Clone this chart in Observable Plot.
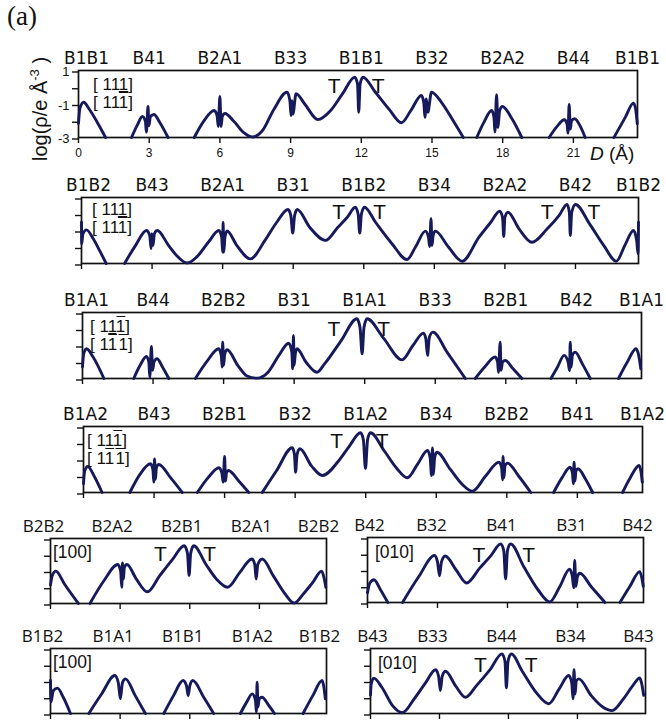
<!DOCTYPE html>
<html><head><meta charset="utf-8">
<script src="https://cdn.jsdelivr.net/npm/d3@7"></script>
<script src="https://cdn.jsdelivr.net/npm/@observablehq/plot@0.6"></script>
<style>
body{margin:0;background:#fff;}
#root{position:relative;width:666px;height:721px;overflow:hidden;background:#fff;font-family:"Liberation Sans",Arial,sans-serif;color:#111;}
.abs{position:absolute;white-space:nowrap;}
.ol{text-decoration:overline;}
.ul{text-decoration:underline;}
.mil{font-size:17px;line-height:18px;}
.dir{font-size:17.5px;line-height:20px;}
</style></head><body><div id="root"></div>
<script>
// ---------- data (D in Å, value = log10 density) ----------
const labels1 = ["B1B1","B41","B2A1","B33","B1B1","B32","B2A2","B44","B1B1"];
const labels2 = ["B1B2","B43","B2A1","B31","B1B2","B34","B2A2","B42","B1B2"];
const labels3 = ["B1A1","B44","B2B2","B31","B1A1","B33","B2B1","B42","B1A1"];
const labels4 = ["B1A2","B43","B2B1","B32","B1A2","B34","B2B2","B41","B1A2"];
const labels5 = ["B2B2","B2A2","B2B1","B2A1","B2B2"];
const labels6 = ["B42","B32","B41","B31","B42"];
const labels7 = ["B1B2","B1A1","B1B1","B1A2","B1B2"];
const labels8 = ["B43","B33","B44","B34","B43"];

const ticksLong = [0,3,6,9,12,15,18,21];
const ticksShort = [0,3,6,9];
const ticksY = [1,0,-1,-2,-3];
const ticksYLabeled = [1,-1,-3];

const curve1 = [[0.00,-2.16],[0.06,-1.25],[0.22,-0.9],[0.45,-1.3],[0.8,-2.1],[1.15,-3.0],null,
[2.25,-3.0],[2.5,-2.25],[2.71,-1.75],[2.84,-2.05],[2.88,-2.68],[2.95,-1.15],[2.99,-2.3],[3.05,-1.75],[3.2,-1.63],[3.45,-2.1],[3.8,-3.0],null,
[4.91,-3.0],[5.3,-2.05],[5.76,-1.39],[5.88,-1.7],[5.93,-2.34],[6.0,-0.55],[6.05,-2.34],[6.1,-1.75],[6.21,-1.57],[6.6,-2.05],[7.0,-2.7],[7.39,-2.97],[7.8,-2.6],[8.3,-1.3],[8.85,-0.29],[8.97,-0.8],[9.02,-1.69],[9.06,-0.8],[9.1,-1.6],[9.23,-0.39],[9.6,-1.0],[10.16,-1.93],[10.7,-1.39],[11.2,-0.4],[11.72,0.6],[11.84,0.2],[11.89,-1.49],[11.95,0.2],[12.07,0.6],[12.6,-0.3],[13.2,-1.35],[13.7,-2.12],[14.1,-1.4],[14.55,-0.49],[14.65,-0.9],[14.7,-1.79],[14.76,-0.7],[14.82,-1.5],[14.98,-0.29],[15.4,-0.9],[15.9,-2.0],[16.33,-3.0],null,
[16.9,-3.0],[17.2,-2.1],[17.53,-1.39],[17.63,-1.8],[17.67,-2.68],[17.74,-0.45],[17.8,-2.4],[17.87,-1.4],[17.99,-1.15],[18.4,-1.9],[18.81,-3.0],null,
[19.97,-3.0],[20.3,-2.35],[20.62,-1.94],[20.73,-2.2],[20.77,-2.74],[20.82,-1.03],[20.87,-2.5],[20.92,-2.0],[21.05,-1.88],[21.3,-2.35],[21.5,-3.0],null,
[22.72,-3.0],[23.2,-1.8],[23.55,-0.95],[23.64,-1.3],[23.71,-2.18]];

const curve2 = [[0,-0.5],[0.01,-1.8],[0.06,-1.2],[0.21,-0.96],[0.5,-1.5],[0.8,-2.3],[1.05,-3],null,
[1.83,-3],[2.3,-1.9],[2.76,-1.0],[2.9,-1.3],[2.96,-2.1],[2.99,-1.2],[3.04,-1.9],[3.1,-1.2],[3.22,-1.0],[3.7,-1.9],[4.1,-2.6],[4.49,-2.97],[4.9,-2.6],[5.4,-1.7],[5.84,-1.0],[5.96,-1.4],[6.0,-2.31],[6.02,-0.5],[6.05,-2.31],[6.1,-1.4],[6.19,-1.03],[6.6,-1.9],[7.18,-2.72],[7.8,-1.6],[8.3,-0.5],[8.78,0.27],[8.9,-0.1],[8.98,-1.16],[9.06,-0.1],[9.17,0.27],[9.7,-0.8],[10.37,-1.6],[10.9,-0.8],[11.3,-0.2],[11.64,0.41],[11.76,0.0],[11.83,-1.16],[11.9,0.0],[12.03,0.41],[12.5,-0.5],[13.2,-1.8],[13.84,-2.76],[14.2,-2.0],[14.62,-1.04],[14.75,-1.4],[14.8,-1.97],[14.86,-0.29],[14.9,-1.9],[14.95,-1.3],[15.04,-1.04],[15.6,-2.0],[16.18,-2.86],[16.9,-1.4],[17.4,-0.5],[17.78,0.17],[17.9,-0.2],[17.95,-1.36],[18.0,-0.2],[18.13,0.11],[18.6,-0.9],[19.15,-1.71],[19.8,-0.9],[20.3,-0.1],[20.64,0.58],[20.74,0.1],[20.78,-1.3],[20.84,0.1],[21.0,0.58],[21.6,-0.6],[22.2,-1.9],[22.74,-2.86],[23.1,-1.9],[23.47,-1.0],[23.6,-1.6],[23.66,-2.41],[23.68,-0.5]];

const curve3 = [[0,-2.3],[0.05,-1.5],[0.17,-1.2],[0.45,-1.7],[0.91,-3],null,
[2.18,-3],[2.45,-2.2],[2.72,-1.67],[2.82,-2.0],[2.86,-2.92],[2.93,-1.06],[2.98,-2.5],[3.04,-2.0],[3.17,-1.8],[3.4,-2.3],[3.67,-3],null,
[4.8,-3],[5.3,-1.95],[5.79,-1.2],[5.9,-1.6],[5.94,-2.3],[5.96,-0.8],[6.0,-2.2],[6.05,-1.5],[6.15,-1.26],[6.6,-2.2],[7.0,-2.85],[7.42,-2.98],[7.9,-2.6],[8.35,-1.6],[8.77,-0.86],[8.9,-1.4],[8.94,-2.41],[8.97,-0.39],[9.0,-2.2],[9.05,-1.5],[9.12,-1.2],[9.5,-2.0],[9.97,-2.62],[10.3,-2.1],[11.0,-0.7],[11.67,0.62],[11.8,0.1],[11.89,-1.5],[11.97,0.1],[12.1,0.62],[12.8,-0.55],[13.59,-1.87],[14.05,-1.0],[14.5,-0.25],[14.6,-0.6],[14.67,-1.6],[14.75,-0.5],[14.9,-0.19],[15.5,-1.4],[16.28,-3],null,
[16.7,-3],[17.1,-2.3],[17.55,-1.7],[17.65,-2.0],[17.69,-2.62],[17.76,-0.8],[17.8,-2.5],[17.86,-2.0],[17.98,-1.91],[18.3,-2.4],[18.69,-3],null,
[19.92,-3],[20.2,-2.3],[20.48,-1.6],[20.65,-2.0],[20.71,-2.52],[20.74,-0.8],[20.78,-2.3],[20.83,-1.6],[20.95,-1.4],[21.25,-2.1],[21.59,-3],null,
[22.79,-3],[23.15,-2.05],[23.54,-1.2],[23.65,-1.6],[23.74,-2.41]];

const curve4 = [[0,-2.47],[0.05,-1.7],[0.18,-1.42],[0.45,-2.0],[0.79,-3],null,
[1.97,-3],[2.4,-1.9],[2.85,-1.26],[2.95,-1.6],[2.99,-2.37],[3.02,-0.96],[3.06,-2.2],[3.1,-1.5],[3.2,-1.3],[3.7,-2.1],[4.2,-3],null,
[4.84,-3],[5.3,-2.1],[5.76,-1.5],[5.88,-1.8],[5.94,-2.37],[6.0,-0.82],[6.04,-2.3],[6.08,-1.8],[6.16,-1.67],[6.6,-2.3],[7.03,-3],null,
[7.6,-3],[8.2,-1.7],[8.88,-0.29],[8.97,-0.7],[9.02,-1.77],[9.08,-0.7],[9.2,-0.35],[9.7,-1.4],[10.16,-1.97],[10.86,-1.06],[11.3,-0.2],[11.78,0.62],[11.9,0.2],[11.99,-1.55],[12.08,0.2],[12.2,0.62],[12.8,-0.5],[13.3,-1.5],[13.77,-2.11],[14.2,-1.3],[14.63,-0.45],[14.74,-0.9],[14.8,-1.97],[14.84,-0.3],[14.88,-1.9],[14.93,-0.9],[15.02,-0.56],[15.6,-1.6],[16.1,-2.5],[16.54,-2.92],[17.1,-2.0],[17.67,-1.16],[17.78,-1.5],[17.82,-2.23],[17.84,-0.82],[17.88,-2.1],[17.92,-1.4],[18.03,-1.22],[18.5,-2.0],[19.02,-3],null,
[19.99,-3],[20.35,-2.1],[20.69,-1.47],[20.79,-1.8],[20.83,-2.47],[20.86,-1.16],[20.9,-2.3],[20.94,-1.7],[21.03,-1.56],[21.35,-2.2],[21.65,-3],null,
[22.92,-3],[23.25,-2.1],[23.63,-1.36],[23.7,-1.7],[23.76,-2.37]];

const curve5 = [[0,-1.85],[0.08,-1.25],[0.23,-1.01],[0.6,-1.8],[1.2,-3],null,
[1.7,-3],[2.3,-1.6],[2.9,-0.6],[3.02,-1.0],[3.07,-2.0],[3.1,-0.5],[3.14,-1.5],[3.18,-0.8],[3.29,-0.6],[3.7,-1.5],[4.17,-2.28],[4.7,-1.3],[5.25,-0.3],[5.76,0.55],[5.9,0.1],[5.97,-1.28],[6.04,0.1],[6.17,0.55],[6.7,-0.6],[7.15,-1.5],[7.63,-2.0],[8.15,-1.1],[8.68,-0.26],[8.8,-0.6],[8.86,-1.5],[8.93,-0.6],[9.12,-0.26],[9.6,-1.3],[10.1,-2.4],[10.5,-2.97],[10.9,-2.4],[11.3,-1.7],[11.68,-1.01],[11.78,-1.4],[11.86,-2.0]];

const curve6 = [[0,-2.4],[0.1,-1.8],[0.28,-1.6],[0.55,-2.2],[0.87,-3],null,
[1.5,-3],[2.2,-1.4],[2.88,-0.1],[3.0,-0.5],[3.09,-1.35],[3.17,-0.5],[3.33,-0.14],[3.8,-1.0],[4.25,-1.8],[4.8,-0.9],[5.3,-0.1],[5.71,0.61],[5.84,0.2],[5.92,-1.54],[6.0,0.2],[6.13,0.61],[6.7,-0.8],[7.3,-2.2],[7.81,-2.97],[8.25,-2.0],[8.66,-0.95],[8.78,-1.4],[8.84,-2.1],[8.88,-0.42],[8.93,-2.0],[9.0,-1.4],[9.1,-1.2],[9.6,-2.05],[10.18,-3],null,
[10.82,-3],[11.25,-2.0],[11.67,-1.1],[11.76,-1.5],[11.82,-2.0]];

const curve7 = [[0,-0.97],[0.02,-2.3],[0.12,-1.6],[0.3,-1.44],[0.55,-2.0],[0.86,-3],null,
[1.65,-3],[2.2,-1.8],[2.77,-0.66],[2.92,-1.1],[3.01,-2.1],[3.1,-1.1],[3.23,-0.87],[3.65,-1.9],[4.09,-3],null,
[4.88,-3],[5.3,-1.9],[5.71,-0.97],[5.86,-1.3],[5.93,-1.89],[6.0,-1.3],[6.13,-0.97],[6.6,-2.0],[7.03,-3],null,
[8.18,-3],[8.45,-2.3],[8.69,-1.79],[8.83,-2.2],[8.87,-2.9],[8.9,-1.07],[8.94,-2.6],[8.99,-2.1],[9.11,-2.0],[9.4,-2.5],[9.65,-3],null,
[10.88,-3],[11.3,-1.9],[11.7,-0.97],[11.78,-1.4],[11.84,-2.1]];

const curve8 = [[0,-1.88],[0.03,-1.2],[0.14,-0.82],[0.5,-1.4],[0.95,-2.5],[1.38,-2.95],[1.9,-2.1],[2.4,-1.1],[2.83,-0.31],[2.96,-0.7],[3.04,-1.58],[3.12,-0.7],[3.26,-0.4],[3.7,-1.3],[4.13,-2.0],[4.6,-1.3],[5.2,-0.3],[5.72,0.67],[5.85,0.2],[5.91,-1.42],[5.98,0.2],[6.12,0.67],[6.6,-0.4],[7.2,-1.7],[7.75,-2.4],[8.2,-1.5],[8.62,-0.66],[8.75,-1.1],[8.81,-2.1],[8.85,-0.31],[8.9,-1.8],[8.95,-1.0],[9.06,-0.87],[9.6,-1.9],[10.1,-2.6],[10.51,-2.82],[11.0,-2.1],[11.4,-1.3],[11.71,-0.82],[11.8,-1.2],[11.88,-1.88]];

// "T" markers (D, log value)
const tMarks1 = [[10.85,0.04],[12.72,0.04]];
const tMarks2 = [[10.93,0.11],[12.68,0.11],[19.8,0.11],[21.78,0.11]];
const tMarks3 = [[10.69,0.0],[12.81,0.0]];
const tMarks4 = [[10.76,0.09],[12.7,0.09]];
const tMarks5 = [[4.74,0.06],[6.86,0.06]];
const tMarks6 = [[4.77,-0.11],[6.91,-0.11]];
const tMarks7 = [];
const tMarks8 = [[4.78,-0.05],[6.99,-0.05]];

// ---------- drawing ----------
const root = document.getElementById("root");
const INK = "#16195a";

function panel(o) {
  const mL = 48, mR = 36, mT = 32, mB = 30;
  const W = o.R - o.L + mL + mR, H = o.B - o.T + mT + mB;
  const pos = o.xticks.concat([o.xmax]);
  const pts = o.curve.map(p => p ? {x: p[0], y: p[1]} : {x: NaN, y: NaN});
  const svg = Plot.plot({
    width: W, height: H,
    marginLeft: mL, marginRight: mR, marginTop: mT, marginBottom: mB,
    x: {domain: [0, o.xmax], label: null},
    y: {domain: [-3, 1], label: null},
    style: {position: "absolute", left: (o.L - mL) + "px", top: (o.T - mT) + "px",
            overflow: "visible", background: "transparent", maxWidth: "none",
            fontFamily: "Liberation Sans, Arial, sans-serif", fontSize: "12px", color: "#111"},
    marks: [
      Plot.axisX({ticks: o.xticks, tickSize: 6, tickPadding: 5, strokeWidth: 1.4, label: null,
                  tickFormat: o.showX ? (d => String(d)) : (() => ""), fontSize: 12}),
      Plot.axisY({ticks: ticksY, tickSize: 6, tickPadding: 3, strokeWidth: 1.4, label: null, dy: 1.5,
                  tickFormat: o.showY ? (d => ticksYLabeled.includes(d) ? String(d) : "") : (() => ""), fontSize: 13}),
      Plot.frame({stroke: "#111", strokeWidth: 1.7}),
      Plot.line(pts, {x: "x", y: "y", stroke: INK, strokeWidth: 2.9, curve: "monotone-x", strokeLinejoin: "round"}),
      Plot.text(pos.slice(0, 1), {x: d => d, text: (d, i) => o.labels[i], frameAnchor: "top", dy: -12, dx: o.firstDx,
                lineAnchor: "middle", fontSize: 17, fontFamily: o.font, fill: "#111"}),
      Plot.text(pos.slice(1), {x: d => d, text: (d, i) => o.labels[i + 1], frameAnchor: "top", dy: -12, dx: o.dx,
                lineAnchor: "middle", fontSize: 17, fontFamily: o.font, fill: "#111"}),
      Plot.text(o.tMarks, {x: d => d[0], y: d => d[1], text: d => "T", fontSize: 21, lineAnchor: "middle",
                fontFamily: "Liberation Sans, Arial, sans-serif", fill: "#111"})
    ]
  });
  root.appendChild(svg);
}

const F1 = "DejaVu Sans, sans-serif", F2 = "Open Sans, sans-serif";
panel({curve: curve1, labels: labels1, tMarks: tMarks1, L: 78, R: 637, T: 70, B: 137, xmax: 23.72, xticks: ticksLong, font: F1, firstDx: 8, dx: 0, showX: true, showY: true});
panel({curve: curve2, labels: labels2, tMarks: tMarks2, L: 81, R: 638, T: 197, B: 263, xmax: 23.68, xticks: ticksLong, font: F1, firstDx: 7, dx: 0});
panel({curve: curve3, labels: labels3, tMarks: tMarks3, L: 82, R: 641, T: 312, B: 378, xmax: 23.77, xticks: ticksLong, font: F1, firstDx: 4, dx: 0});
panel({curve: curve4, labels: labels4, tMarks: tMarks4, L: 83, R: 642, T: 426, B: 492, xmax: 23.77, xticks: ticksLong, font: F1, firstDx: 2, dx: 0});
panel({curve: curve5, labels: labels5, tMarks: tMarks5, L: 50, R: 326, T: 538, B: 603, xmax: 11.89, xticks: ticksShort, font: F2, firstDx: -7, dx: -8});
panel({curve: curve6, labels: labels6, tMarks: tMarks6, L: 367, R: 643, T: 537, B: 602, xmax: 11.83, xticks: ticksShort, font: F2, firstDx: 2, dx: -6});
panel({curve: curve7, labels: labels7, tMarks: tMarks7, L: 50, R: 326, T: 648, B: 713, xmax: 11.89, xticks: ticksShort, font: F2, firstDx: -8, dx: -7});
panel({curve: curve8, labels: labels8, tMarks: tMarks8, L: 370, R: 645, T: 648, B: 713, xmax: 11.96, xticks: ticksShort, font: F2, firstDx: 2, dx: -7});

// ---------- text annotations ----------
function addText(html, css, cls) {
  const d = document.createElement("div");
  d.className = "abs " + (cls || "");
  d.innerHTML = html;
  Object.assign(d.style, css);
  root.appendChild(d);
}
addText("(a)", {left: "7px", top: "1px", fontFamily: "Liberation Serif, serif", fontSize: "27px"});
addText('log(ρ/e Å<sup style="font-size:13px">-3</sup>&nbsp;)', {left: "-27px", top: "97px", width: "124px", height: "24px",
  lineHeight: "24px", textAlign: "center", fontSize: "20px", transform: "rotate(-90deg)"});
addText('<i>D</i> (Å)', {left: "590px", top: "143px", fontSize: "19px"});

const mil = [
  [93, 76, '[ 11<span class="ul">1</span>]', '[ 11<span class="ol">1</span>]'],
  [92, 201, '[ 11<span class="ul">1</span>]', '[ 11<span class="ol">1</span>]'],
  [90, 318, '[ 1<span class="ul">1</span><span class="ol">1</span>]', '[ 1<span class="ol">1</span>&#8202;<span class="ol">1</span>]'],
  [87, 432, '[ 11<span class="ol">1</span>]', '[ 1<span class="ol">1</span>&#8202;<span class="ol">1</span>]']
];
for (const [x, y, a, b] of mil) addText(a + "<br>" + b, {left: x + "px", top: y + "px"}, "mil");
addText("[100]", {left: "53px", top: "542px"}, "dir");
addText("[010]", {left: "375px", top: "542px"}, "dir");
addText("[100]", {left: "53px", top: "652px"}, "dir");
addText("[010]", {left: "378px", top: "653px"}, "dir");
</script></body></html>
